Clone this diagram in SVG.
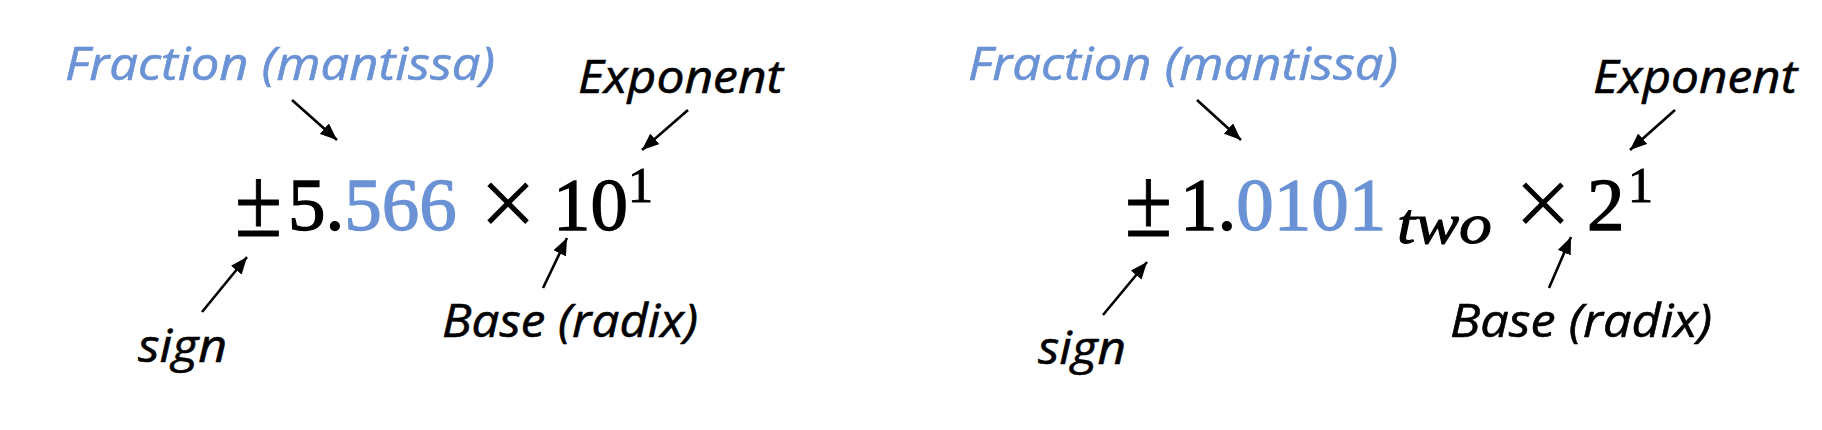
<svg xmlns="http://www.w3.org/2000/svg" width="1822" height="430" viewBox="0 0 1822 430">
<defs>
<marker id="ah" markerUnits="userSpaceOnUse" markerWidth="18" markerHeight="14" refX="17" refY="7" orient="auto">
<path d="M0,0 L17,7 L0,14 z" fill="#000"/>
</marker>
<style>
.lbl{font-family:"Open Sans","Noto Sans",sans-serif;font-style:italic;font-size:46px;fill:#000;stroke:#000;stroke-width:0.6}
.lbl.blue{fill:#6A92D5;stroke:#6A92D5}
.math{font-family:"Liberation Serif","Times New Roman",serif;font-size:75px;fill:#000;stroke:#000;stroke-width:1.3}
.math .blue{fill:#6A92D5;stroke:#6A92D5}
.pm{font-family:"Liberation Serif","Times New Roman",serif;font-size:100px;fill:#000;stroke:#000;stroke-width:1}
.times{font-family:"Liberation Serif","Times New Roman",serif;font-size:102px;fill:#000}
.sup{font-family:"Liberation Serif","Times New Roman",serif;font-size:50px;fill:#000;stroke:#000;stroke-width:1}
.sub{font-family:"Liberation Serif","Times New Roman",serif;font-style:italic;font-size:58px;fill:#000;stroke:#000;stroke-width:1}
.arr{stroke:#000;stroke-width:2.6;fill:none;marker-end:url(#ah)}
</style>
</defs>
<rect width="1822" height="430" fill="#fff"/>

<g id="left-formula">
<text class="pm" x="235" y="236" textLength="47" lengthAdjust="spacingAndGlyphs">±</text>
<text class="math" x="288" y="230">5.<tspan class="blue">566</tspan></text>
<text class="times" x="508" y="237" text-anchor="middle">×</text>
<text class="math" x="553" y="230">10</text>
<text class="sup" x="628" y="202">1</text>
</g>
<g id="left-fraction"><text class="lbl blue" x="65" y="80" textLength="430" lengthAdjust="spacingAndGlyphs">Fraction (mantissa)</text></g>
<g id="left-exponent"><text class="lbl" x="578" y="93" textLength="205" lengthAdjust="spacingAndGlyphs">Exponent</text></g>
<g id="left-sign"><text class="lbl" x="138" y="362" textLength="89" lengthAdjust="spacingAndGlyphs">sign</text></g>
<g id="left-base"><text class="lbl" x="442" y="337" textLength="256" lengthAdjust="spacingAndGlyphs">Base (radix)</text></g>

<g id="right-formula">
<text class="pm" x="1125" y="236" textLength="47" lengthAdjust="spacingAndGlyphs">±</text>
<text class="math" x="1180" y="230">1.<tspan class="blue">0101</tspan></text>
<text class="sub" x="1397" y="243" textLength="95" lengthAdjust="spacingAndGlyphs">two</text>
<text class="times" x="1543" y="237" text-anchor="middle">×</text>
<text class="math" x="1587" y="230">2</text>
<text class="sup" x="1628" y="202">1</text>
</g>
<g id="right-fraction"><text class="lbl blue" x="968" y="80" textLength="430" lengthAdjust="spacingAndGlyphs">Fraction (mantissa)</text></g>
<g id="right-exponent"><text class="lbl" x="1593" y="93" textLength="204" lengthAdjust="spacingAndGlyphs">Exponent</text></g>
<g id="right-sign"><text class="lbl" x="1038" y="364" textLength="88" lengthAdjust="spacingAndGlyphs">sign</text></g>
<g id="right-base"><text class="lbl" x="1450" y="337" textLength="262" lengthAdjust="spacingAndGlyphs">Base (radix)</text></g>

<g id="connectors">
<line class="arr" x1="292" y1="100" x2="337" y2="140"/>
<line class="arr" x1="688" y1="110" x2="642" y2="150"/>
<line class="arr" x1="202" y1="312" x2="247" y2="257"/>
<line class="arr" x1="543" y1="288" x2="567" y2="238"/>
<line class="arr" x1="1197" y1="100" x2="1241" y2="140"/>
<line class="arr" x1="1675" y1="110" x2="1630" y2="150"/>
<line class="arr" x1="1103" y1="315" x2="1147" y2="262"/>
<line class="arr" x1="1549" y1="288" x2="1571" y2="237"/>
</g>
</svg>
